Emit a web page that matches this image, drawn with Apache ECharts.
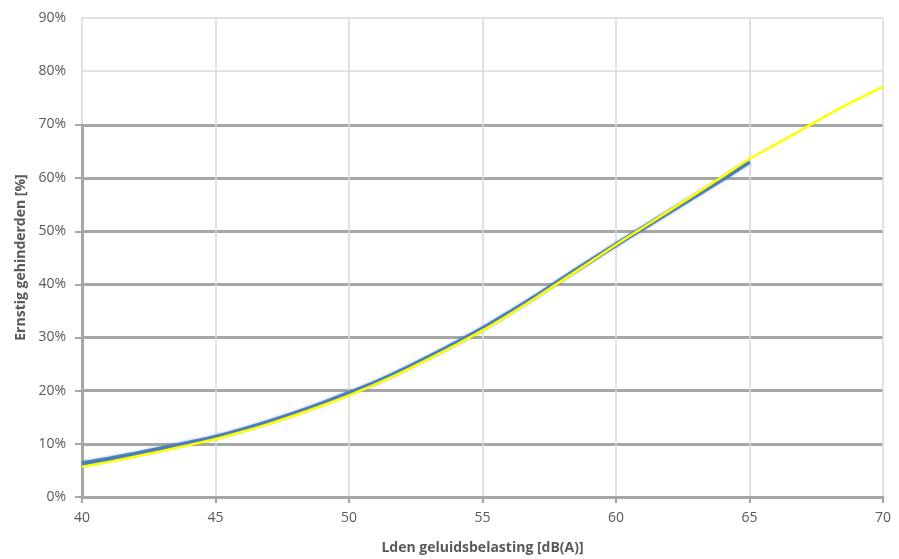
<!DOCTYPE html>
<html>
<head>
<meta charset="utf-8">
<script src="https://cdn.jsdelivr.net/npm/echarts@6/dist/echarts.min.js"></script>
<style>
  html, body { margin: 0; padding: 0; background: #fff; }
  #chart { width: 899px; height: 559px; }
</style>
</head>
<body>
<div id="chart"></div>
<script>
// noise level Lden [dB(A)]
const lden = [40, 41, 42, 43, 44, 45, 46, 47, 48, 49, 50, 51, 52, 53, 54, 55,
  56, 57, 58, 59, 60, 61, 62, 63, 64, 65, 66, 67, 68, 69, 70];
// blue curve, ends at 65 dB
const blueCurve = [6.3, 7.15, 8.1, 9.1, 10.15, 11.25, 12.6, 14.1, 15.75, 17.55, 19.5,
  21.5, 23.8, 26.3, 28.9, 31.6, 34.6, 37.7, 41.0, 44.2, 47.4, 50.5, 53.6, 56.7,
  59.8, 63.0];
// yellow curve, runs to 70 dB
const yellowCurve = [5.7, 6.6, 7.6, 8.65, 9.75, 10.9, 12.25, 13.75, 15.4, 17.2, 19.1,
  21.2, 23.5, 26.0, 28.6, 31.3, 34.3, 37.45, 40.75, 44.05, 47.4, 50.6, 53.8, 57.0,
  60.25, 63.5, 66.3, 69.1, 72.0, 74.6, 77.1];

const xTitle = 'Lden geluidsbelasting [dB(A)]';
const yTitle = 'Ernstig gehinderden [%]';

const toPairs = vals => vals.map((v, i) => [lden[i], v]);

const chart = echarts.init(document.getElementById('chart'));
const font = '"Open Sans", "Liberation Sans", sans-serif';
const light = '#d9d9d9';
const dark = '#a6a6a6';

chart.setOption({
  animation: false,
  grid: [
    { left: 82, right: 16, top: 18, bottom: 62, outerBoundsMode: 'none' },
    { left: 82, right: 16, top: 125, bottom: 62, outerBoundsMode: 'none' }
  ],
  xAxis: [
    {
      gridIndex: 0, type: 'value', min: 40, max: 70, interval: 5,
      name: xTitle, nameLocation: 'middle', nameGap: 44,
      nameTextStyle: { color: '#595959', fontWeight: 'bold', fontSize: 14, fontFamily: font },
      axisLine: { show: false }, axisTick: { show: false },
      axisLabel: { color: '#595959', fontSize: 14, fontFamily: font, margin: 14 },
      splitLine: { show: true, lineStyle: { color: light, width: 1.5 } }
    },
    {
      gridIndex: 1, type: 'value', min: 40, max: 70, interval: 5,
      axisLine: { show: true, lineStyle: { color: dark, width: 3 } },
      axisTick: { show: true, length: 6, lineStyle: { color: dark, width: 2 } },
      axisLabel: { show: false },
      splitLine: { show: false }
    }
  ],
  yAxis: [
    {
      gridIndex: 0, type: 'value', min: 0, max: 90, interval: 10,
      name: yTitle, nameLocation: 'middle', nameGap: 54, nameRotate: 90,
      nameTextStyle: { color: '#595959', fontWeight: 'bold', fontSize: 14, fontFamily: font },
      axisLine: { show: false }, axisTick: { show: false },
      axisLabel: { color: '#595959', fontSize: 14, fontFamily: font, margin: 16, formatter: '{value}%' },
      splitLine: { show: true, lineStyle: { color: light, width: 1.5 } }
    },
    {
      gridIndex: 1, type: 'value', min: 0, max: 70, interval: 10,
      axisLine: { show: true, lineStyle: { color: dark, width: 3 } },
      axisTick: { show: true, length: 7, lineStyle: { color: dark, width: 2 } },
      axisLabel: { show: false },
      splitLine: { show: true, lineStyle: { color: dark, width: 3 } }
    }
  ],
  series: [
    {
      name: 'blauw', type: 'line', xAxisIndex: 0, yAxisIndex: 0,
      data: toPairs(blueCurve), showSymbol: false, smooth: 0.3,
      lineStyle: { color: '#4a7ebb', width: 4.5, shadowBlur: 3, shadowColor: 'rgba(74,126,187,0.6)' },
      z: 3
    },
    {
      name: 'geel', type: 'line', xAxisIndex: 0, yAxisIndex: 0,
      data: toPairs(yellowCurve), showSymbol: false, smooth: 0.3,
      lineStyle: { color: '#ffff00', width: 2.5 },
      z: 4
    }
  ]
});
</script>
</body>
</html>
